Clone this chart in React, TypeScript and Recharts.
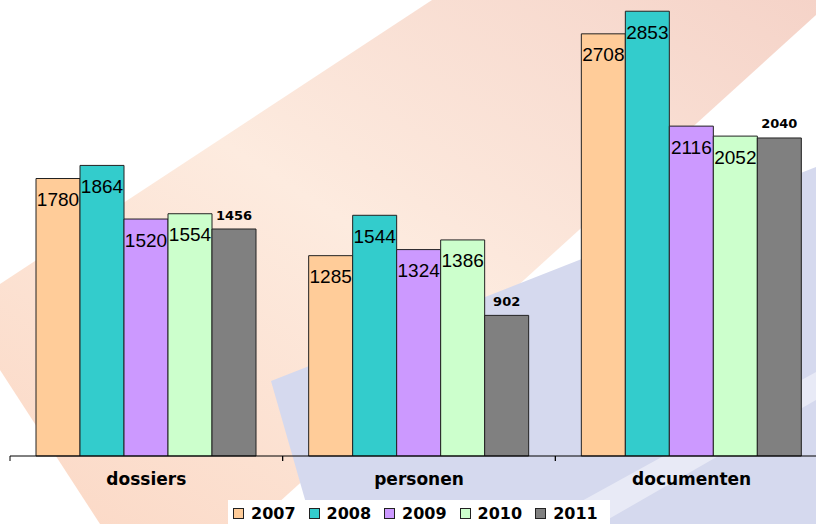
import { Bar, BarChart, Legend, XAxis, YAxis } from "recharts";

const categories = ["dossiers", "personen", "documenten"];
const years = ["2007", "2008", "2009", "2010", "2011"];
const values2007 = [1780, 1285, 2708];
const values2008 = [1864, 1544, 2853];
const values2009 = [1520, 1324, 2116];
const values2010 = [1554, 1386, 2052];
const values2011 = [1456, 902, 2040];
const colors = ["#ffcc99", "#33cccc", "#cc99ff", "#ccffcc", "#808080"];

const series = [values2007, values2008, values2009, values2010, values2011];

const data = categories.map((name, i) => {
  const row: any = { name };
  years.forEach((y, j) => (row[y] = series[j][i]));
  return row;
});

const BOLD = "'DejaVu Sans', Verdana, sans-serif";
const PLAIN = "'Liberation Sans', Arial, sans-serif";

const insideLabel = (props: any) => {
  const { x, y, width, value } = props;
  return (
    <text x={x + width / 2} y={y + 21} textAnchor="middle" dominantBaseline="central"
      fontFamily={PLAIN} fontSize={19} fill="#000">
      {value}
    </text>
  );
};

const topLabel = (props: any) => {
  const { x, y, width, value } = props;
  return (
    <text x={x + width / 2} y={y - 14} textAnchor="middle" dominantBaseline="central"
      fontFamily={BOLD} fontWeight={700} fontSize={13} fill="#000">
      {value}
    </text>
  );
};

const CategoryTick = ({ x, y, payload }: any) => {
  const half = payload?.offset ?? 818 / 6;
  return (
    <g>
      <line x1={x - half} x2={x - half} y1={y} y2={y + 5} stroke="#000" />
      <line x1={x + half} x2={x + half} y1={y} y2={y + 5} stroke="#000" />
      <text x={x} y={y + 29} textAnchor="middle" fontFamily={BOLD} fontWeight={700}
        fontSize={17} fill="#000">
        {payload.value}
      </text>
    </g>
  );
};

const LegendContent = () => (
  <div style={{
    display: "flex", alignItems: "center", height: 24, paddingLeft: 5,
    fontFamily: BOLD, fontWeight: 700, fontSize: 16, color: "#000", paddingTop: 2,
    boxSizing: "border-box",
  }}>
    {years.map((y, i) => (
      <div key={y} style={{ display: "flex", alignItems: "center", marginRight: 13 }}>
        <span style={{
          width: 9, height: 9, background: colors[i], border: "1px solid #222",
          display: "inline-block", marginRight: 7,
        }} />
        <span>{y}</span>
      </div>
    ))}
  </div>
);

const Backdrop = () => (
  <svg width={816} height={524} style={{ position: "absolute", left: 0, top: 0 }}>
    <defs>
      <linearGradient id="peach" x1="1" y1="0" x2="0" y2="1">
        <stop offset="0" stopColor="#f5d3c8" />
        <stop offset="0.5" stopColor="#fdebdf" />
        <stop offset="1" stopColor="#fbd8c5" />
      </linearGradient>
    </defs>
    <rect x={0} y={0} width={816} height={524} fill="#fff" />
    <polygon points="0,284 432,0 816,0 816,15 255,524 100,524 0,370" fill="url(#peach)" />
    <polygon points="271,381 816,167 816,524 312,524" fill="#d5d9ee" />
    <polygon points="540,524 816,372 816,400 600,524" fill="#fff" opacity={0.45} />
  </svg>
);

export default function App() {
  return (
    <div style={{ position: "absolute", left: 0, top: 0, width: 816, height: 524, overflow: "hidden" }}>
      <Backdrop />
      <div style={{ position: "absolute", left: 0, top: 0 }}>
        <BarChart width={828} height={524} data={data} barGap={0} barSize={44}
          margin={{ top: 0, right: 0, left: 10, bottom: 0 }}>
          <YAxis hide domain={[0, 2925]} />
          <XAxis dataKey="name" height={44} tickSize={0} tickMargin={0}
            axisLine={{ stroke: "#000" }} tickLine={false} tick={<CategoryTick />} />
          <Legend verticalAlign="bottom" content={<LegendContent />}
            wrapperStyle={{ left: 228, width: 382, height: 24, background: "#fff" }} />
          {years.map((y, i) => (
            <Bar key={y} dataKey={y} fill={colors[i]} stroke="#222" strokeWidth={1}
              isAnimationActive={false} label={i === 4 ? topLabel : insideLabel} />
          ))}
        </BarChart>
      </div>
    </div>
  );
}
